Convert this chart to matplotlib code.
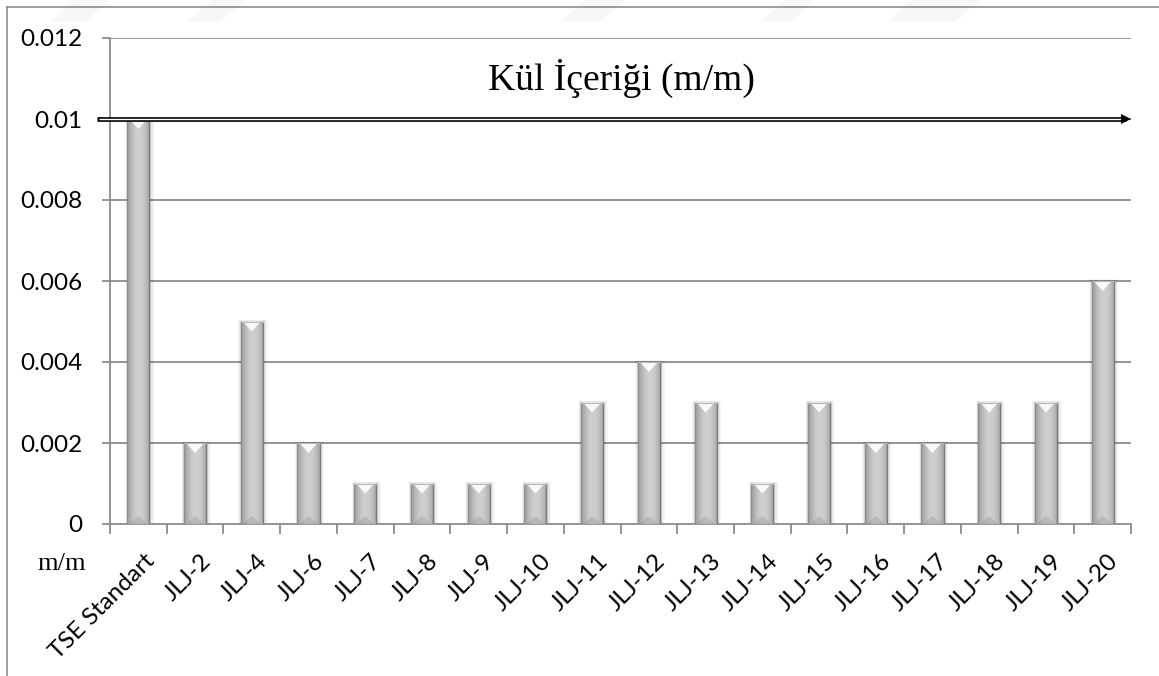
import numpy as np
import matplotlib
matplotlib.use("Agg")
import matplotlib.pyplot as plt
from matplotlib.patches import Rectangle, Polygon
from matplotlib.lines import Line2D
from matplotlib.transforms import ScaledTranslation

categories = ["TSE Standart", "JLJ-2", "JLJ-4", "JLJ-6", "JLJ-7", "JLJ-8", "JLJ-9",
              "JLJ-10", "JLJ-11", "JLJ-12", "JLJ-13", "JLJ-14", "JLJ-15", "JLJ-16",
              "JLJ-17", "JLJ-18", "JLJ-19", "JLJ-20"]
ash_content = [0.010, 0.002, 0.005, 0.002, 0.001, 0.001, 0.001, 0.001, 0.003,
               0.004, 0.003, 0.001, 0.003, 0.002, 0.002, 0.003, 0.003, 0.006]
standard_limit = 0.010
y_ticks = [0, 0.002, 0.004, 0.006, 0.008, 0.010, 0.012]
y_tick_labels = ["0", "0.002", "0.004", "0.006", "0.008", "0.01", "0.012"]
title_text = "Kül İçeriği (m/m)"
unit_text = "m/m"

W, H = 1159, 676
fig = plt.figure(figsize=(W / 100, H / 100), dpi=100)
fig.patch.set_facecolor("white")


def fig_xy(px, py):
    return (px / W, 1 - py / H)


# faint background stripes along the top edge
for xs in [(50, 85), (187, 220), (560, 600), (760, 790), (887, 955)]:
    a, b = xs
    pts = [fig_xy(a, 22), fig_xy(a + 25, 0), fig_xy(b + 25, 0), fig_xy(b, 22)]
    fig.add_artist(Polygon(pts, closed=True, transform=fig.transFigure,
                           facecolor="#f7f7f7", edgecolor="none", zorder=0))

# outer frame (top and left edges)
fig.add_artist(Line2D([7 / W, 1], [1 - 7 / H, 1 - 7 / H], transform=fig.transFigure,
                      color="#8c8c8c", lw=1.2))
fig.add_artist(Line2D([7 / W, 7 / W], [0, 1 - 7 / H], transform=fig.transFigure,
                      color="#8c8c8c", lw=1.2))

left, right, top, bottom = 110, 1131, 38, 524
ax = fig.add_axes([left / W, 1 - bottom / H, (right - left) / W, (bottom - top) / H])
ax.set_facecolor("none")

n = len(categories)
x = np.arange(n)
bar_w = 0.39
ymax = 0.012
px_y = ymax / (bottom - top)
px_x = n / (right - left)

ax.set_xlim(-0.5, n - 0.5)
ax.set_ylim(0, ymax)

# grid lines
for yt in y_ticks[1:]:
    ax.axhline(yt, color="#8c8c8c", lw=1.3, zorder=1)

# bars with a bevelled gray gradient
profile = np.array([0.63, 0.69, 0.75, 0.79, 0.81, 0.81, 0.80, 0.77, 0.73, 0.67])
grad = np.tile(profile, (2, 1))
for xi, h in zip(x, ash_content):
    x0, x1 = xi - bar_w / 2, xi + bar_w / 2
    # soft shadow
    for k, a in zip([6, 4, 2], [0.035, 0.055, 0.075]):
        ax.add_patch(Rectangle((x0 - k * 0.4 * px_x, 0), bar_w + k * 1.2 * px_x,
                               h + k * 0.3 * px_y, facecolor="black",
                               edgecolor="none", alpha=a, zorder=2))
    rect = Rectangle((x0, 0), bar_w, h, facecolor="none", edgecolor="none", zorder=3)
    ax.add_patch(rect)
    im = ax.imshow(grad, cmap="gray", vmin=0, vmax=1, aspect="auto",
                   extent=(x0, x1, 0, h), interpolation="bicubic", zorder=3)
    im.set_clip_path(rect)
    dh = 10 * px_y
    ax.add_patch(Polygon([(x0 + 2 * px_x, h), (x1 - 2 * px_x, h), (xi, h - dh)],
                         closed=True, facecolor="white", edgecolor="none",
                         alpha=0.9, zorder=4))
    ax.add_patch(Polygon([(x0 + 2 * px_x, 0), (x1 - 2 * px_x, 0), (xi, 0.8 * dh)],
                         closed=True, facecolor="#6e6e6e", edgecolor="none",
                         alpha=0.22, zorder=4))
    ax.plot([x1, x1], [0, h], color="#7a7a7a", lw=1.0, zorder=4)
    ax.plot([x0, x0], [0, h], color="#8e8e8e", lw=0.9, zorder=4)
    ax.plot([x0, x1], [h, h], color="#b8b8b8", lw=0.8, zorder=4)

ax.set_xlim(-0.5, n - 0.5)
ax.set_ylim(0, ymax)

# standard limit line: double line with arrow head
x_start = -0.5 - 13 * px_x
x_end = n - 0.5 - 5 * px_x
ax.plot([x_start, x_end], [standard_limit, standard_limit], color="black",
        lw=3.4, solid_capstyle="butt", zorder=6, clip_on=False)
ax.plot([x_start + 1.5 * px_x, x_end], [standard_limit, standard_limit], color="white",
        lw=1.0, solid_capstyle="butt", zorder=7, clip_on=False)
ax.plot([x_end], [standard_limit], marker=">", color="black", markersize=7,
        markeredgewidth=0, zorder=7, clip_on=False)

# spines
for s in ["top", "right"]:
    ax.spines[s].set_visible(False)
for s in ["left", "bottom"]:
    ax.spines[s].set_color("#8c8c8c")
    ax.spines[s].set_linewidth(1.3)

ax.set_yticks(y_ticks)
ax.set_yticklabels(y_tick_labels, fontfamily="Lato", fontsize=17.5)
ax.tick_params(axis="y", direction="out", length=6, width=1.3, color="#8c8c8c", pad=14)

ax.set_xticks(x)
ax.set_xticklabels(categories, rotation=45, ha="right", va="top",
                   rotation_mode="anchor", fontfamily="Lato", fontsize=17.5)
ax.tick_params(axis="x", which="major", length=0, pad=19)
ax.set_xticks(np.arange(n + 1) - 0.5, minor=True)
ax.tick_params(axis="x", which="minor", direction="out", length=7, width=1.3,
               color="#8c8c8c")
shift = ScaledTranslation(5 / 100, 0, fig.dpi_scale_trans)
for lbl in ax.get_xticklabels():
    lbl.set_transform(lbl.get_transform() + shift)

fig.text(621 / W, 1 - 78 / H, title_text, fontfamily="Liberation Serif", fontsize=27,
         ha="center", va="center")
fig.text(62 / W, 1 - 564 / H, unit_text, fontfamily="Liberation Serif", fontsize=19,
         ha="center", va="center")

fig.savefig("out.png", dpi=100, facecolor="white")
